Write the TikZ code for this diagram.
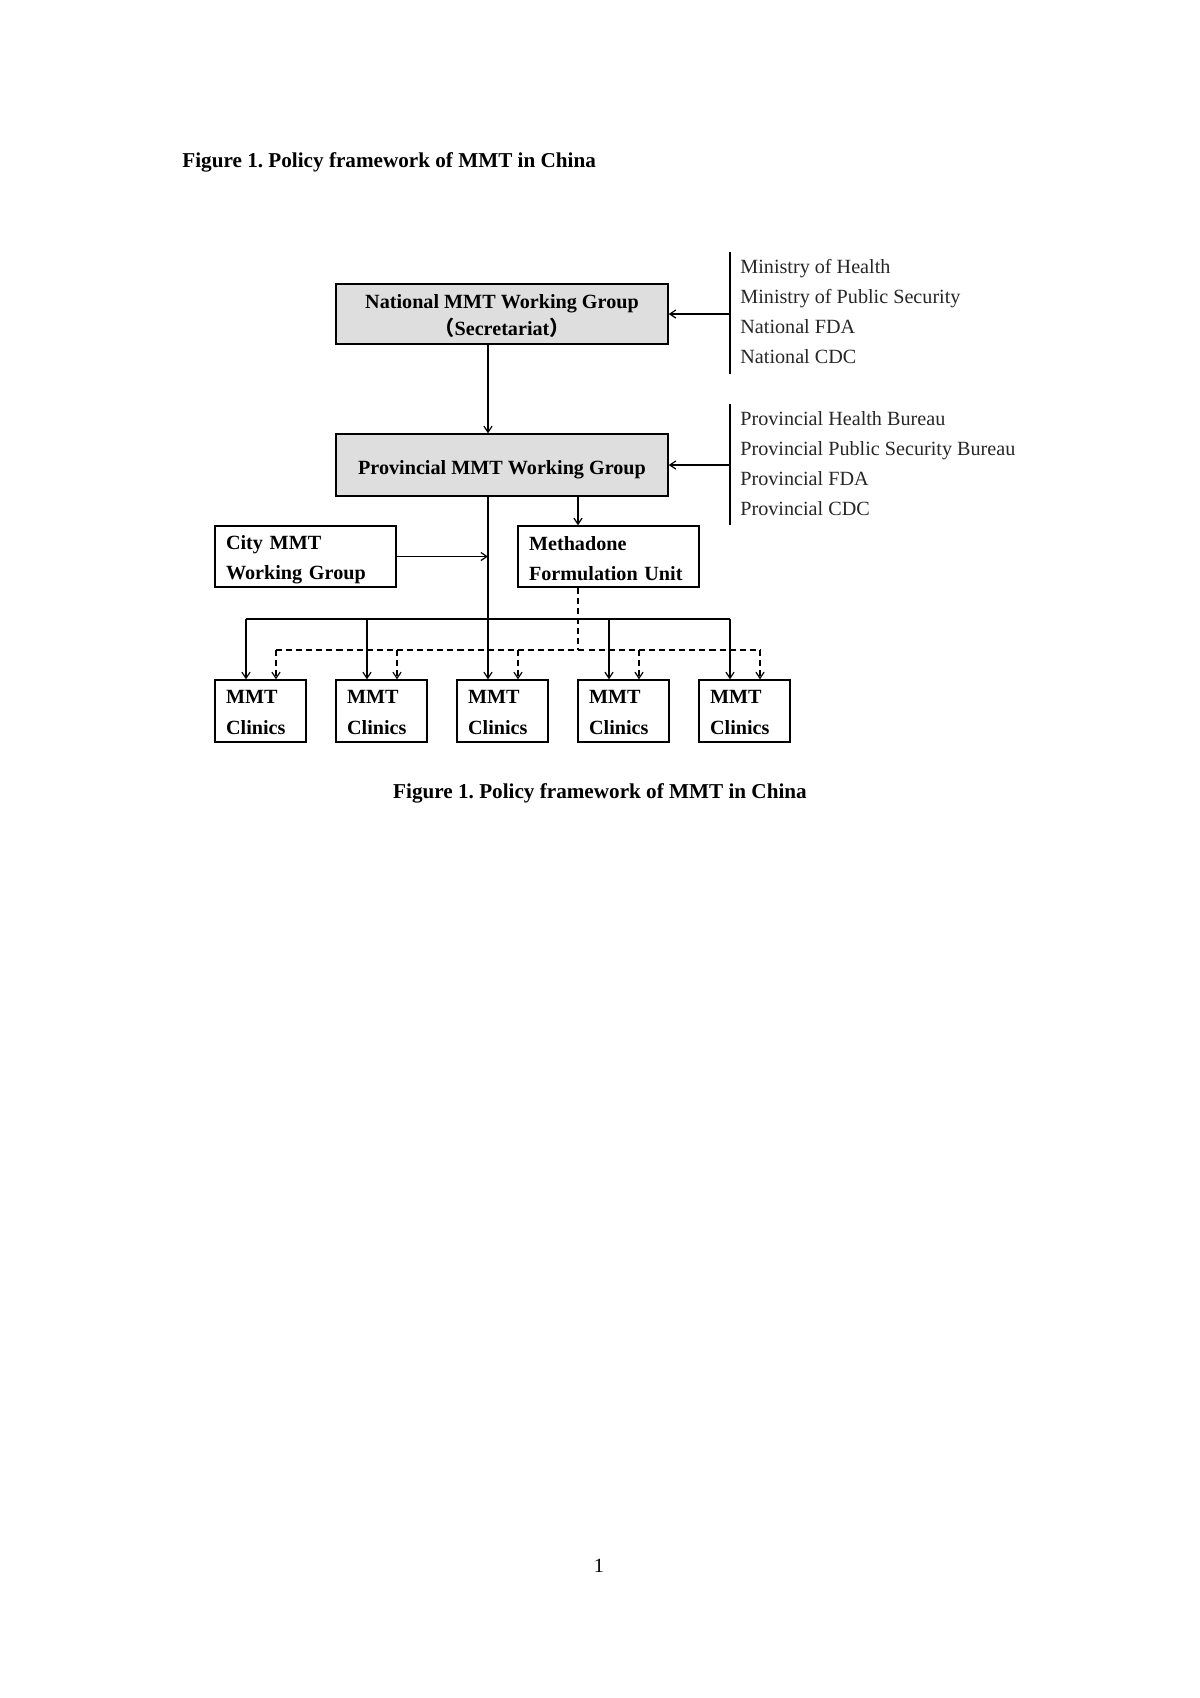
\documentclass[tikz,border=0pt]{standalone}
\usepackage{fontspec}
\setmainfont{Liberation Serif}
\newfontfamily\cjk{Noto Sans CJK SC}
\usetikzlibrary{arrows.meta}
\frenchspacing
\begin{document}
\begin{tikzpicture}[x=0.496pt,y=-0.496pt,
  box/.style={draw, line width=0.7pt, inner sep=0pt, font=\fontsize{10pt}{15pt}\selectfont\bfseries},
  gbox/.style={box, fill=black!13, align=center, minimum width=164.7pt},
  lbox/.style={box, align=left, inner xsep=5.5pt, inner ysep=0pt},
  conn/.style={line width=0.6pt},
  arr/.style={conn, -{Straight Barb[length=3pt,width=4pt]}},
  dline/.style={conn, dash pattern=on 3pt off 2pt},
  darr/.style={arr, dash pattern=on 3pt off 2pt},
  list/.style={anchor=west, align=left, inner sep=0pt, text=black!85, font=\fontsize{10pt}{14.9pt}\selectfont},
  ttl/.style={inner sep=0pt, font=\fontsize{10.5pt}{12pt}\selectfont\bfseries}
]
\useasboundingbox (0,0) rectangle (1200,1698);

\node[ttl, anchor=west] (t1) at (182,162) {Figure 1. Policy framework of MMT in China};

\node[gbox, minimum height=29.8pt, font=\fontsize{10pt}{13.4pt}\selectfont\bfseries] (nat) at (502,314)
  {\rule{0pt}{8.8pt}National MMT Working Group\\{\cjk （}Secretariat{\cjk ）}};
\node[gbox, minimum height=30.75pt, text height=11pt, text depth=2pt] (prov) at (502,465) {Provincial MMT Working Group};

\node[lbox, text width=78.8pt, minimum height=30.3pt] (city) at (305.5,556.5) {\rule{0pt}{10pt}City MMT\\Working Group};
\node[lbox, text width=78.8pt, minimum height=30.3pt] (meth) at (608.5,556.5) {\rule{0pt}{9pt}Methadone\\Formulation Unit};

\foreach \i/\x in {1/260.5,2/381.5,3/502.5,4/623.5,5/744.5}
  \node[lbox, text width=34.1pt, minimum height=30.75pt] (c\i) at (\x,711) {\rule{0pt}{8pt}MMT\\Clinics};

\node[list] (natlist) at (740,311.5) {Ministry of Health\\Ministry of Public Security\\National FDA\\National CDC};
\node[list] (provlist) at (740,464) {Provincial Health Bureau\\Provincial Public Security Bureau\\Provincial FDA\\Provincial CDC};

% brackets
\coordinate (b1t) at (730,252);
\coordinate (b1b) at (730,374);
\coordinate (b2t) at (730,404);
\coordinate (b2b) at (730,525);
\draw[conn] (b1t) -- (b1b);
\draw[conn] (b2t) -- (b2b);
\draw[arr] (nat.east -| b1t) -- (nat.east);
\draw[arr] (prov.east -| b2t) -- (prov.east);

% main vertical
\coordinate (main) at (488,0);
\coordinate (mx) at (578,0);
\draw[arr] (nat.south -| main) -- (prov.north -| main);
\draw[arr] (prov.south -| main) -- (c3.north -| main);
\draw[arr] (prov.south -| mx) -- (meth.north -| mx);
\draw[arr] (city.east) -- (city.east -| main);

% solid distribution
\foreach \i/\x in {1/246,2/367,3/488,4/609,5/730}
  \coordinate (s\i) at (\x,619);
\draw[conn] (s1) -- (s5);
\foreach \i in {1,2,4,5}
  \draw[arr] (s\i) -- (s\i |- c\i.north);

% dashed distribution
\foreach \i/\x in {1/276,2/397,3/518,4/639,5/760}
  \coordinate (d\i) at (\x,650);
\draw[dline] (meth.south -| mx) -- (d1 -| mx);
\draw[dline] (d1) -- (d5);
\foreach \i in {1,...,5}
  \draw[darr] (d\i) -- (d\i |- c\i.north);

\node[ttl] (t2) at (600,793) {Figure 1. Policy framework of MMT in China};
\node[inner sep=0pt, font=\fontsize{10pt}{12pt}\selectfont] (pg) at (599,1566) {1};
\end{tikzpicture}
\end{document}
